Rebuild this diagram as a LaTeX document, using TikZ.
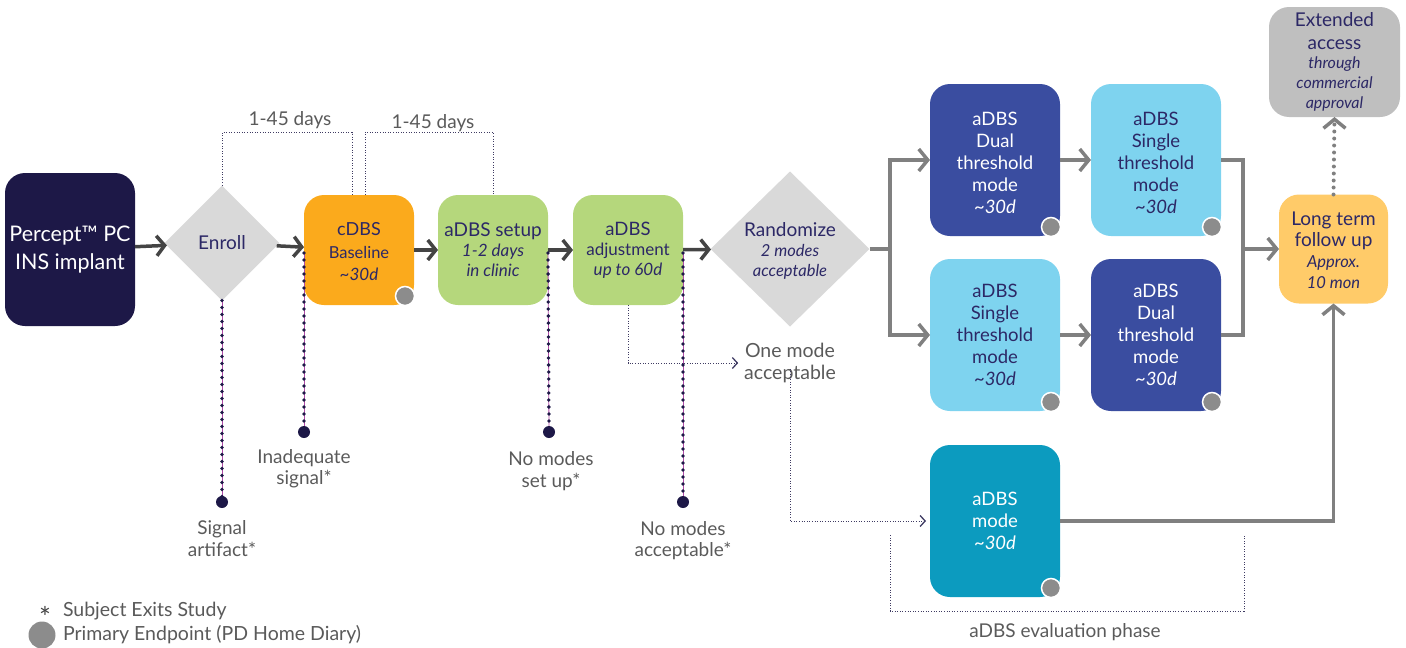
\documentclass[tikz,border=0pt]{standalone}
\usepackage{fontspec}
\setmainfont{Lato}
\usetikzlibrary{arrows.meta,shapes.geometric}

\definecolor{navy}{HTML}{1D1847}
\definecolor{inktext}{HTML}{2C2866}
\definecolor{lbltext}{HTML}{5A5A5A}
\definecolor{darkarrow}{HTML}{444444}
\definecolor{grayarrow}{HTML}{808080}
\definecolor{diamondgray}{HTML}{D9D9D9}
\definecolor{cdbsorange}{HTML}{FBAA1C}
\definecolor{setupgreen}{HTML}{B5D77C}
\definecolor{dualblue}{HTML}{3A4DA0}
\definecolor{singleblue}{HTML}{7ED3EF}
\definecolor{modeteal}{HTML}{0C9BBF}
\definecolor{followorange}{HTML}{FFCB69}
\definecolor{accessgray}{HTML}{BFBFBF}
\definecolor{endpointgray}{HTML}{8C8C8C}
\definecolor{exitpurple}{HTML}{B04AA8}

\newcommand{\fs}[2]{\fontsize{#1}{#2}\selectfont}
% strut that pushes the text block of a card slightly down
\newcommand{\topgap}{\rule{0pt}{20pt}}

\begin{document}
\begin{tikzpicture}[x=1pt,y=-1pt,
  every node/.style={inner sep=0pt, outer sep=0pt},
  card/.style={rounded corners=20pt, align=center, text=inktext, font=\fs{18.5}{22}},
  smallcard/.style={card, minimum width=110pt, minimum height=110pt},
  tallcard/.style={card, minimum width=130pt, minimum height=152pt},
  gate/.style={diamond, fill=diamondgray, align=center, text=inktext},
  flow/.style={draw=darkarrow, line width=3.5pt, -{Straight Barb[length=8pt,width=20pt]}},
  gflow/.style={draw=grayarrow, line width=3.5pt, -{Straight Barb[length=9pt,width=22pt]}},
  gline/.style={draw=grayarrow, line width=3.5pt},
  timing/.style={draw=navy!85, line width=1pt, dash pattern=on 1pt off 1.6pt},
  hint/.style={timing, -{Straight Barb[length=5pt,width=11pt,line width=1.3pt]}},
  exitline/.style={draw=exitpurple, line width=0.8pt,
    postaction={draw=navy, line width=3.8pt, line cap=round, dash pattern=on 0pt off 7pt}},
  exitdot/.style={circle, fill=navy, minimum size=12pt},
  endpoint/.style={circle, fill=endpointgray, draw=white, line width=1.5pt, minimum size=19pt},
  lbl/.style={text=lbltext, align=center, font=\fs{19}{21.5}},
  sublbl/.style={lbl, font=\fs{19.5}{22}},
]
\useasboundingbox (0,0) rectangle (1406,648);

% ---------- main sequence ----------
\node[card, fill=navy, text=white, minimum width=130pt, minimum height=153pt, font=\fs{21.5}{28}]
  (percept) at (70,249.5) {Percept™ PC\\INS implant};
\node[gate, minimum width=115pt, minimum height=115pt, font=\fs{19}{22}]
  (enroll) at (222,243) {Enroll};
\node[smallcard, fill=cdbsorange, font=\fs{18}{22.5}] (cdbs) at (359,250)
  {\rule{0pt}{17pt}cDBS\\{\fs{16.5}{22}Baseline}\\{\fs{17}{22}\itshape \textasciitilde30d}};
\node[smallcard, fill=setupgreen, font=\fs{19}{20}] (setup) at (493,250)
  {aDBS setup\\{\fs{17}{20}\itshape 1-2 days}\\{\fs{17}{20}\itshape in clinic}};
\node[smallcard, fill=setupgreen, font=\fs{18.5}{20}] (adj) at (628,250)
  {aDBS\\{\fs{17}{20}adjustment}\\{\fs{17}{20}\itshape up to 60d}};
\node[gate, minimum width=159pt, minimum height=155pt, font=\fs{19}{20}] (rand) at (790,249)
  {\rule{0pt}{17pt}Randomize\\{\fs{16.5}{20}\itshape 2 modes}\\{\fs{16.5}{20}\itshape acceptable}};

% ---------- randomized arms ----------
\node[tallcard, fill=dualblue, text=white] (dualA) at (995,160)
  {\topgap aDBS\\Dual\\threshold\\mode\\\textit{\textasciitilde30d}};
\node[tallcard, fill=singleblue] (singleA) at (1156,160)
  {\topgap aDBS\\Single\\threshold\\mode\\\textit{\textasciitilde30d}};
\node[tallcard, fill=singleblue] (singleB) at (995,335)
  {aDBS\\Single\\threshold\\mode\\\textit{\textasciitilde30d}};
\node[tallcard, fill=dualblue, text=white] (dualB) at (1156,335)
  {aDBS\\Dual\\threshold\\mode\\\textit{\textasciitilde30d}};
\node[tallcard, fill=modeteal, text=white] (mode) at (995,521)
  {aDBS\\mode\\\textit{\textasciitilde30d}};

% ---------- follow up ----------
\node[card, fill=followorange, minimum width=109pt, minimum height=109pt, font=\fs{19}{21}]
  (ltf) at (1333.5,249)
  {\rule{0pt}{17pt}Long term\\follow up\\{\fs{16.5}{21}\itshape Approx.}\\{\fs{16.5}{21}\itshape 10 mon}};
\node[card, fill=accessgray, minimum width=131pt, minimum height=110pt, font=\fs{19}{20}]
  (ext) at (1334.5,62)
  {Extended\\[3pt]access\\[-1pt]{\fs{16}{20}\itshape through}\\{\fs{16}{20}\itshape commercial}\\{\fs{16}{20}\itshape approval}};

% ---------- primary endpoint markers ----------
\foreach \b in {cdbs, dualA, singleA, singleB, dualB, mode}
  \node[endpoint] at ([xshift=-9pt, yshift=9pt]\b.south east) {};

% ---------- flow arrows ----------
\draw[flow] (percept) -- (enroll);
\draw[flow] (enroll) -- (cdbs);
\draw[flow] (cdbs) -- (setup);
\draw[flow] (setup) -- (adj);
\draw[flow] (adj) -- (rand);

\coordinate (split) at (890,249);
\coordinate (merge) at (1243,249);
\draw[gline] (rand.east) -- (split);
\draw[gflow] (split) |- (dualA.west);
\draw[gflow] (split) |- (singleB.west);
\draw[gflow] (dualA) -- (singleA);
\draw[gflow] (singleB) -- (dualB);
\draw[gline] (singleA.east) -| (merge);
\draw[gline] (dualB.east) -| (merge);
\draw[gflow] (merge) -- (ltf.west);
\draw[gflow] (mode.east) -| (ltf.south);
\draw[draw=grayarrow, line width=4pt, line cap=round, dash pattern=on 0pt off 7pt,
  shorten >=4pt] (ltf.north) -- (ext.south);
\draw[draw=grayarrow, line width=3.5pt, -{Straight Barb[length=9pt,width=22pt]}]
  ([yshift=-2pt]ext.south) -- (ext.south);

% ---------- timing brackets ----------
\coordinate (cdbsTop) at (352,195);
\coordinate (cdbsTop2) at (365,195);
\draw[timing] (enroll.north) -- ++(0,-53) -| (cdbsTop);
\draw[timing] (cdbsTop2) -- ++(0,-63) -| (setup.north);
\node[lbl] (days1) at (290,120) {1-45 days};
\node[lbl] (days2) at (433,123) {1-45 days};

% ---------- single mode path ----------
\node[sublbl] (onemode) at (790,363) {One mode\\acceptable};
\draw[hint] (adj.south) |- ([xshift=-6pt]onemode.west);
\draw[hint] ([yshift=14pt]onemode.south) |- ([xshift=-4pt]mode.west);

% ---------- evaluation phase bracket ----------
\coordinate (evalL) at (890,535);
\coordinate (evalR) at (1244,535);
\draw[timing] (evalL) -- (890,611) -- (1244,611) -- (evalR);
\node[lbl] (evallbl) at (1065,632) {aDBS evaluation phase};

% ---------- study exits ----------
\coordinate (x1) at (222,502);
\coordinate (x2) at (304,432);
\coordinate (x3) at (549,432);
\coordinate (x4) at (683,502);
\draw[exitline] (enroll.south) -- (x1);
\draw[exitline] ([yshift=-3pt]cdbs.west) -- (x2);
\draw[exitline] ([yshift=-3pt]setup.east) -- (x3);
\draw[exitline] ([yshift=-3pt]adj.east) -- (x4);
\foreach \p in {x1,x2,x3,x4} \node[exitdot] at (\p) {};
\node[lbl] (exit1) at (222,538.5) {Signal\\artifact*};
\node[lbl] (exit2) at (304,468.5) {Inadequate\\signal*};
\node[lbl] (exit3) at (551,471) {No modes\\set up*};
\node[lbl] (exit4) at (683,540.5) {No modes\\acceptable*};

% ---------- legend ----------
\node[lbl, text=darkarrow, font=\fs{28}{28}] (legstar) at (45,617) {*};
\node[lbl, anchor=west, font=\fs{19.5}{22}] (legexit) at (63,611) {Subject Exits Study};
\node[circle, fill=endpointgray, minimum size=27pt] (legdot) at (42,635) {};
\node[lbl, anchor=west, font=\fs{19.5}{22}] (legpe) at (63,635) {Primary Endpoint (PD Home Diary)};
\end{tikzpicture}
\end{document}
